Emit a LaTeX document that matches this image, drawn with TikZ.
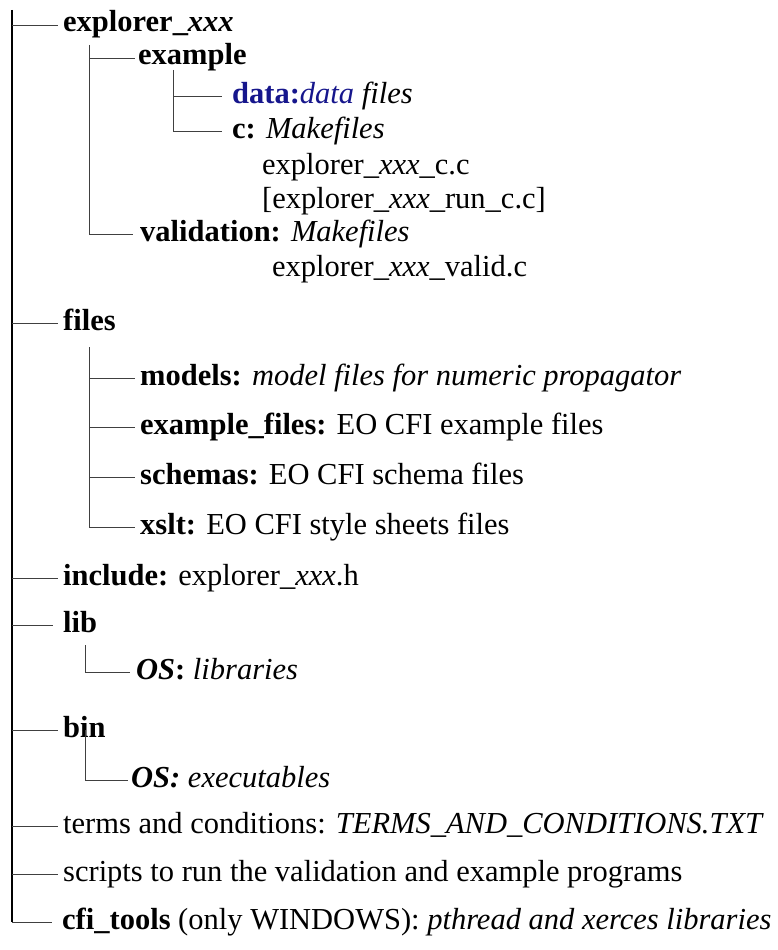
\documentclass[tikz,border=0pt]{standalone}
\usepackage{fontspec}
\setmainfont{Liberation Serif}
\usetikzlibrary{positioning}
\definecolor{datablue}{RGB}{22,22,140}
\tikzset{
  stem/.style={draw=black, line width=1.1pt},
  branch/.style={draw=black!75, line width=0.9pt},
  entry/.style={anchor=west, inner ysep=0pt, inner xsep=5pt,
    text height=21pt, text depth=7pt,
    font=\fontsize{30.5}{36}\selectfont},
  far/.style={inner xsep=10pt},
  near/.style={inner xsep=3pt},
  more/.style={entry, inner xsep=0pt}
}

\begin{document}
\begin{tikzpicture}[x=1pt,y=-1pt]
\useasboundingbox (0,0) rectangle (778,950);

% where the stems hang from
\coordinate (root) at (12,10);
\coordinate (explstem) at (89,45);
\coordinate (exstem) at (173,70);
\coordinate (filesstem) at (89,347);
\coordinate (libstem) at (85,645);
\coordinate (binstem) at (85,730);

% explorer_xxx
\node[entry] (explorer) at (58,25) {\textbf{explorer\_\textit{xxx}}};
\node[entry, near] (example) at (135,58) {\textbf{example}};
\node[entry, far] (data) at (222,96)
  {\textcolor{datablue}{\textbf{data:}\textit{data}} \textit{files}};
\node[entry, far] (cmake) at (222,131) {\textbf{c:} \textit{Makefiles}};
\node[more] (cfile) at (262,167) {explorer\_\textit{xxx}\_c.c};
\node[more] (runfile) at (262,201) {[explorer\_\textit{xxx}\_run\_c.c]};
\node[entry, inner xsep=7pt] (valid) at (133,234)
  {\textbf{validation:} \textit{Makefiles}};
\node[more] (validfile) at (272,269) {explorer\_\textit{xxx}\_valid.c};

% files
\node[entry] (files) at (58,323) {\textbf{files}};
\node[entry] (models) at (135,378)
  {\textbf{models:} \textit{model files for numeric propagator}};
\node[entry] (exfiles) at (135,427) {\textbf{example\_files:} EO CFI example files};
\node[entry] (schemas) at (135,477) {\textbf{schemas:} EO CFI schema files};
\node[entry] (xslt) at (135,527) {\textbf{xslt:} EO CFI style sheets files};

% include, lib, bin
\node[entry] (include) at (58,578) {\textbf{include:} explorer\_\textit{xxx}.h};
\node[entry, far] (lib) at (53,625) {\textbf{lib}};
\node[entry, inner xsep=6pt] (oslib) at (130,672)
  {\textbf{\textit{OS}:} \textit{libraries}};
\node[entry] (bin) at (58,730) {\textbf{bin}};
\node[entry, near] (osbin) at (128,780)
  {\textbf{\textit{OS:}} \textit{executables}};

% the rest
\node[entry] (terms) at (58,826)
  {terms and conditions: \textit{TERMS\_AND\_CONDITIONS.TXT}};
\node[entry] (scripts) at (58,874)
  {scripts to run the validation and example programs};
\node[entry, far] (tools) at (52,922)
  {\textbf{cfi\_tools} (only WINDOWS): \textit{pthread and xerces libraries}};

% tree lines
\draw[stem] (root) -- (root |- tools.west);
\foreach \n in {explorer,files,include,lib,bin,terms,scripts,tools}
  \draw[branch] (root |- \n.west) -- (\n.west);
\draw[branch] (explstem) |- (valid.west);
\draw[branch] (explstem |- example.west) -- (example.west);
\draw[branch] (exstem) |- (cmake.west);
\draw[branch] (exstem |- data.west) -- (data.west);
\draw[branch] (filesstem) |- (xslt.west);
\foreach \n in {models,exfiles,schemas}
  \draw[branch] (filesstem |- \n.west) -- (\n.west);
\draw[branch] (libstem) |- (oslib.west);
\draw[branch] (binstem) |- (osbin.west);

\end{tikzpicture}
\end{document}
